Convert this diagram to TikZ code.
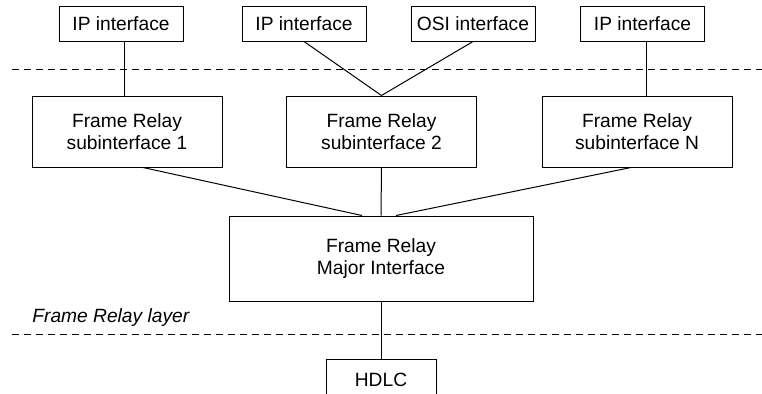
\documentclass[tikz,border=0pt]{standalone}
\usepackage{fontspec}
\setmainfont{Liberation Sans}
\usetikzlibrary{positioning}
\definecolor{ink}{RGB}{0,0,0}
\tikzset{
  box/.style={draw=ink,line width=0.5pt,fill=white,inner sep=0pt,align=center,
    minimum width=#1,font=\fontsize{9.6}{10.8}\selectfont},
  box/.default=62pt,
  link/.style={draw=ink,line width=0.5pt},
  layerline/.style={draw=ink,line width=0.5pt,dash pattern=on 3.5pt off 2.5pt},
  tag/.style={font=\fontsize{9.6}{10.8}\selectfont\itshape,anchor=west,inner sep=0pt},
}
\begin{document}
\begin{tikzpicture}[x=0.5pt,y=-0.5pt]
    \clip (0,0) rectangle (762,393);
    \fill[white] (0,0) rectangle (762,393);
    % upper layer
    \foreach \t/\x [count=\i] in {IP interface/121,IP interface/304,OSI interface/473,IP interface/642.5}{
      \node[box,minimum height=17.5pt] (top\i) at (\x,23.5) {\t};
    }
    \foreach \t/\x [count=\i] in {1/127,2/381.5,N/637}{
      \node[box=95pt,minimum height=35.5pt] (sub\i) at (\x,131.5) {Frame Relay\\subinterface \t};
    }
    \node[box=152pt,minimum height=42.5pt] (major) at (381,258.5) {Frame Relay\\Major Interface};
    \node[box=55pt,minimum height=21pt] (hdlc) at (381,380) {HDLC};
    \node[tag] (layer) at (32,318) {Frame Relay layer};
    \draw[layerline] (12,69) -- (762,69);
    \draw[layerline] (12,334) -- (762,334);
    \draw[link] ([xshift=1.5pt]top1.south) -- ([xshift=1.5pt]top1.south |- sub1.north);
    \draw[link] (top2.south) -- (sub2.north);
    \draw[link] (top3.south) -- (sub2.north);
    \draw[link] ([xshift=2pt]top4.south) -- ([xshift=2pt]top4.south |- sub3.north);
    \draw[link] ([xshift=8pt]sub1.south) -- ([xshift=-9.5pt]major.north);
    \draw[link] (sub2.south) -- (major.north);
    \draw[link] ([xshift=-3pt]sub3.south) -- ([xshift=7.5pt]major.north);
    \draw[link] (major.south) -- (hdlc.north);
\end{tikzpicture}
\end{document}
